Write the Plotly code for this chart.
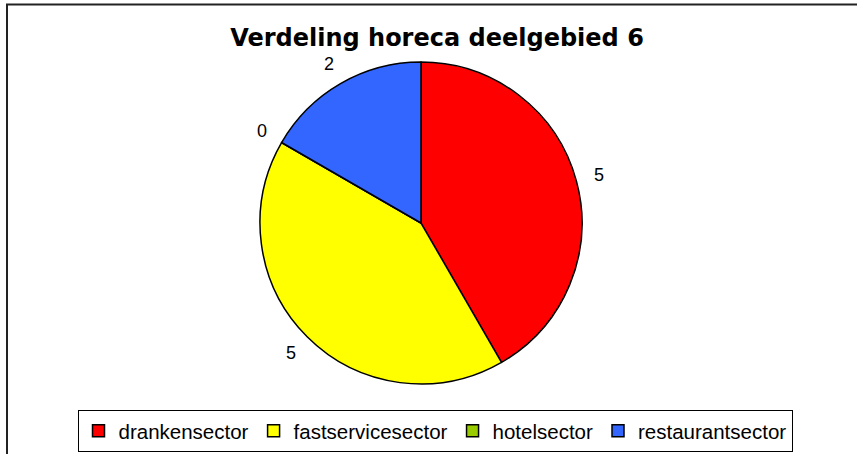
import math
import plotly.graph_objects as go

categories = ["drankensector", "fastservicesector", "hotelsector", "restaurantsector"]
values = [5, 5, 0, 2]
colors = ["#FF0000", "#FFFF00", "#99CC00", "#3366FF"]
title = "Verdeling horeca deelgebied 6"

W, H = 857, 454
cx, cy, r = 421, 223, 161

fig = go.Figure(go.Pie(
    labels=categories, values=values, sort=False, direction="clockwise", rotation=0,
    marker=dict(colors=colors, line=dict(color="#000000", width=1.5)),
    textinfo="none", hoverinfo="label+value",
    domain=dict(x=[(cx - r) / W, (cx + r) / W], y=[1 - (cy + r) / H, 1 - (cy - r) / H]),
    showlegend=True,
))

# value labels outside each slice, placed from slice mid-angles
total = sum(values)
acc = 0
annotations = []
for v in values:
    mid = (acc + v / 2) / total * 2 * math.pi
    acc += v
    lx = cx + (r + 23) * math.sin(mid)
    ly = cy - (r + 23) * math.cos(mid)
    annotations.append(dict(x=lx / W, y=1 - ly / H, xref="paper", yref="paper",
                            xanchor="center", yanchor="middle",
                            text=str(v), showarrow=False,
                            font=dict(size=18, color="#000000", family="Liberation Sans, Arial")))

fig.update_layout(
    width=W, height=H,
    margin=dict(l=0, r=0, t=0, b=0, autoexpand=False),
    paper_bgcolor="white", plot_bgcolor="white",
    title=dict(text="<b>" + title + "</b>", x=437 / W, xanchor="center", y=1 - 38 / H, yanchor="middle",
               font=dict(size=24, family="DejaVu Sans", color="#000000")),
    legend=dict(orientation="h",
                x=435 / W, xanchor="center", y=1 - 410 / H, yanchor="top",
                bordercolor="#000000", borderwidth=1, bgcolor="white",
                font=dict(size=20.5, family="Liberation Sans, Arial", color="#000000"),
                itemwidth=30, tracegroupgap=0),
    annotations=annotations,
    shapes=[dict(type="rect", xref="paper", yref="paper", x0=7 / W, x1=1.05, y0=-0.05, y1=1 - 4.5 / H,
                 line=dict(color="#222222", width=2), layer="below")],
)

fig.write_html("out.html", config={"displayModeBar": False},
               post_script="document.body.style.margin='0';document.body.style.padding='0';")
